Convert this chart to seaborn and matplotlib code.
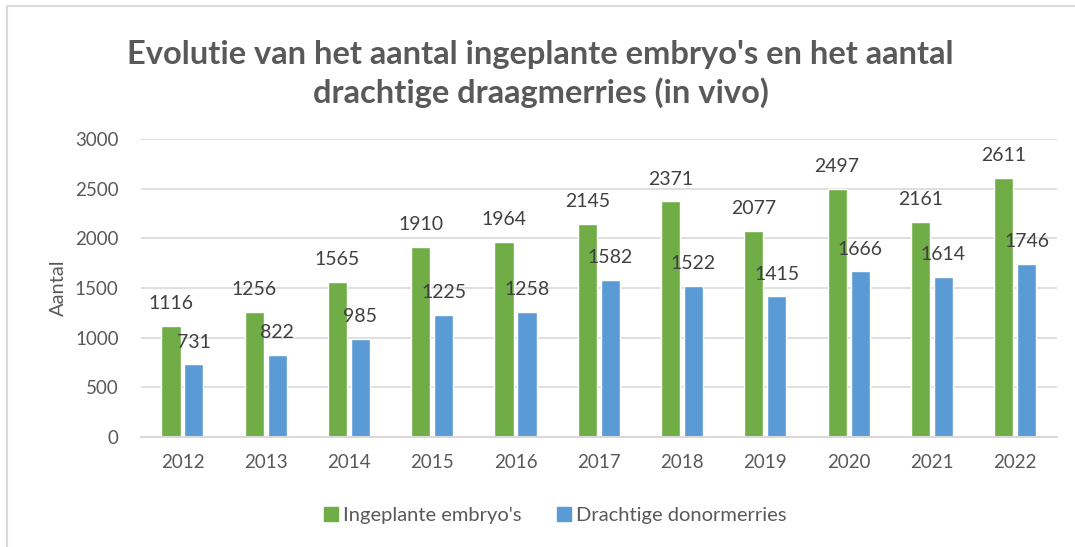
import matplotlib
matplotlib.use("Agg")
import matplotlib.pyplot as plt
import matplotlib.lines as mlines
import seaborn as sns
import pandas as pd

jaren = ["2012", "2013", "2014", "2015", "2016", "2017", "2018", "2019", "2020", "2021", "2022"]
embryos = [1116, 1256, 1565, 1910, 1964, 2145, 2371, 2077, 2497, 2161, 2611]
draagmerries = [731, 822, 985, 1225, 1258, 1582, 1522, 1415, 1666, 1614, 1746]
series = ["Ingeplante embryo's", "Drachtige donormerries"]
kleuren = ["#70AD47", "#5B9BD5"]

df = pd.DataFrame({
    "jaar": jaren * 2,
    "aantal": embryos + draagmerries,
    "reeks": [series[0]] * len(jaren) + [series[1]] * len(jaren),
})

sns.set_style("white")
plt.rcParams["font.family"] = ["Lato", "DejaVu Sans"]
grijs = "#595959"

fig = plt.figure(figsize=(10.75, 5.47), dpi=100)
ax = fig.add_axes([0.131, 0.201, 0.852, 0.545])

sns.barplot(data=df, x="jaar", y="aantal", hue="reeks", palette=kleuren,
            saturation=1, width=0.552, gap=0.17, ax=ax, legend=False)

# waarden boven de staven
for container in ax.containers:
    for bar in container:
        h = bar.get_height()
        ax.annotate(f"{int(h)}", (bar.get_x() + bar.get_width() / 2, h),
                    xytext=(0, 10), textcoords="offset points",
                    ha="center", va="bottom", fontsize=14, color="#404040")

ax.set_ylim(0, 3000)
ax.set_xlim(-0.5, len(jaren) - 0.5)
ax.set_yticks(range(0, 3001, 500))
ax.yaxis.grid(True, color="#D9D9D9", linewidth=1.2)
ax.set_axisbelow(True)
for s in ["top", "right", "left"]:
    ax.spines[s].set_visible(False)
ax.spines["bottom"].set_color("#D9D9D9")
ax.spines["bottom"].set_linewidth(1.5)
ax.tick_params(axis="both", length=0, labelsize=13.5, colors=grijs)
ax.tick_params(axis="x", pad=12)
ax.tick_params(axis="y", pad=16)
ax.set_xlabel("")
ax.set_ylabel("Aantal", fontsize=14.5, color=grijs, labelpad=6)

fig.text(0.503, 0.865, "Evolutie van het aantal ingeplante embryo's en het aantal\ndrachtige draagmerries (in vivo)",
         ha="center", va="center", fontsize=23.5, fontweight="bold", color=grijs, linespacing=1.3)

handles = [mlines.Line2D([], [], marker="s", linestyle="none", markersize=10,
                         markerfacecolor=c, markeredgecolor=c) for c in kleuren]
fig.legend(handles, series, loc="center", bbox_to_anchor=(0.515, 0.058), ncol=2,
           frameon=False, fontsize=14.5, labelcolor=grijs, handletextpad=0.1,
           columnspacing=1.6, handlelength=1)

# kader van de grafiek
fig.add_artist(mlines.Line2D([0.0065, 0.0065], [0, 0.989], color="#D9D9D9", linewidth=1.5))
fig.add_artist(mlines.Line2D([0.0065, 1], [0.989, 0.989], color="#D9D9D9", linewidth=1.5))

fig.savefig("out.png", dpi=100)
